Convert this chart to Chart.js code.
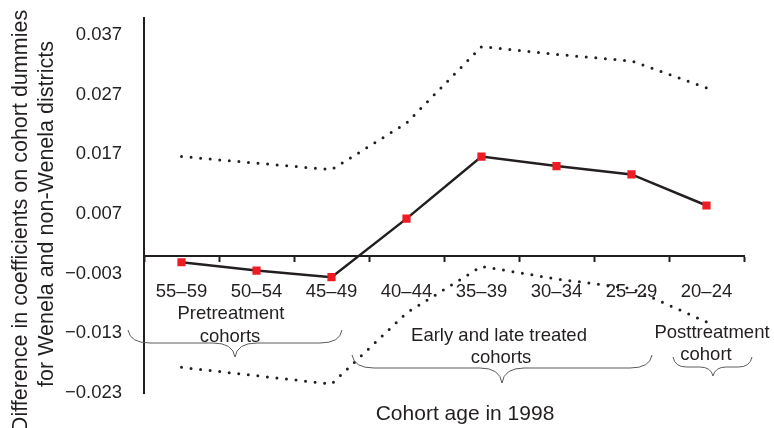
<!DOCTYPE html>
<html>
<head>
<meta charset="utf-8">
<script src="https://cdn.jsdelivr.net/npm/chart.js@4"></script>
<style>
	html, body { margin: 0; padding: 0; background: #fff; }
	#wrap { width: 774px; height: 428px; position: relative; }
</style>
</head>
<body>
<div id="wrap"><canvas id="cohortChart"></canvas></div>
<script>
const cohorts = ['55–59', '50–54', '45–49', '40–44', '35–39', '30–34', '25–29', '20–24'];
const difference = [-0.0011, -0.0025, -0.0036, 0.0062, 0.0166, 0.0150, 0.0136, 0.0084];
const upperBound = [0.0166, 0.0155, 0.0144, 0.0222, 0.0350, 0.0337, 0.0326, 0.0281];
const lowerBound = [-0.0187, -0.0201, -0.0215, -0.0096, -0.0018, -0.0039, -0.0055, -0.0111];
const yTickValues = [-0.023, -0.013, -0.003, 0.007, 0.017, 0.027, 0.037];
const yTickLabels = ['−0.023', '−0.013', '−0.003', '0.007', '0.017', '0.027', '0.037'];

const ink = '#231f20';
const fontFamily = '"Liberation Sans", Arial, Helvetica, sans-serif';

// braces under the cohort groups (pixel positions)
const braces = [
	{ x1: 128, x2: 342, xm: 235, yEnd: 330, yBar: 343, yTip: 357 },
	{ x1: 352, x2: 652, xm: 502, yEnd: 355, yBar: 368, yTip: 383 },
	{ x1: 673, x2: 752, xm: 713, yEnd: 357, yBar: 367, yTip: 376 }
];
const groupLabels = [
	{ text: 'Pretreatment', x: 231, y: 319 },
	{ text: 'cohorts', x: 230, y: 342 },
	{ text: 'Early and late treated', x: 499, y: 341 },
	{ text: 'cohorts', x: 501, y: 363 },
	{ text: 'Posttreatment', x: 712, y: 338 },
	{ text: 'cohort', x: 706, y: 360 }
];

function drawBrace(ctx, b) {
	const r = Math.min(22, (b.xm - b.x1) / 3);
	ctx.beginPath();
	ctx.moveTo(b.x1, b.yEnd);
	ctx.quadraticCurveTo(b.x1 + 2, b.yBar, b.x1 + r, b.yBar);
	ctx.lineTo(b.xm - r, b.yBar);
	ctx.quadraticCurveTo(b.xm - 2, b.yBar, b.xm, b.yTip);
	ctx.quadraticCurveTo(b.xm + 2, b.yBar, b.xm + r, b.yBar);
	ctx.lineTo(b.x2 - r, b.yBar);
	ctx.quadraticCurveTo(b.x2 - 2, b.yBar, b.x2, b.yEnd);
	ctx.stroke();
}

const annotationPlugin = {
	id: 'annotationPlugin',
	afterDraw(chart) {
		const ctx = chart.ctx;
		ctx.save();
		ctx.strokeStyle = '#5a5a5a';
		ctx.lineWidth = 1;
		braces.forEach(b => drawBrace(ctx, b));

		ctx.fillStyle = ink;
		ctx.textAlign = 'center';
		ctx.textBaseline = 'alphabetic';
		ctx.font = '18.5px ' + fontFamily;
		groupLabels.forEach(l => ctx.fillText(l.text, l.x, l.y));

		// axis titles
		ctx.font = '21px ' + fontFamily;
		ctx.fillText('Cohort age in 1998', 465, 420);
		ctx.font = '21.5px ' + fontFamily;
		ctx.rotate(-Math.PI / 2);
		ctx.fillText('Difference in coefficients on cohort dummies', -221, 27);
		ctx.fillText('for Wenela and non-Wenela districts', -214, 53);
		ctx.restore();
	}
};

function createChart() {
	const ctx = document.getElementById('cohortChart').getContext('2d');
	new Chart(ctx, {
		type: 'line',
		data: {
			labels: cohorts,
			datasets: [
				{
					label: 'Upper bound',
					data: upperBound,
					borderColor: ink,
					borderWidth: 3,
					borderDash: [0, 9.6],
					borderCapStyle: 'round',
					pointRadius: 0,
					tension: 0
				},
				{
					label: 'Lower bound',
					data: lowerBound,
					borderColor: ink,
					borderWidth: 3,
					borderDash: [0, 9.6],
					borderCapStyle: 'round',
					pointRadius: 0,
					tension: 0
				},
				{
					label: 'Difference',
					data: difference,
					borderColor: ink,
					borderWidth: 2.5,
					pointStyle: 'rect',
					pointRadius: 5.8,
					pointBorderWidth: 0,
					pointBackgroundColor: '#ed1c24',
					tension: 0
				}
			]
		},
		options: {
			responsive: true,
			maintainAspectRatio: false,
			animation: false,
			layout: {
				padding: { left: 0, top: 18, right: 30, bottom: 35 }
			},
			plugins: {
				legend: { display: false },
				tooltip: { enabled: false }
			},
			scales: {
				x: {
					position: { y: 0 },
					offset: true,
					grid: {
						display: true,
						offset: true,
						drawOnChartArea: false,
						drawTicks: true,
						tickLength: 5,
						tickWidth: 2,
						tickColor: ink
					},
					border: { display: true, color: ink, width: 2 },
					ticks: {
						color: ink,
						padding: 20,
						maxRotation: 0,
						autoSkip: false,
						font: { size: 18.5, family: fontFamily }
					}
				},
				y: {
					min: -0.023,
					max: 0.0398,
					grid: { display: false },
					border: { display: true, color: ink, width: 2 },
					afterBuildTicks: scale => {
						scale.ticks = yTickValues.map(v => ({ value: v }));
					},
					afterFit: scale => {
						scale.width = 144;
					},
					ticks: {
						color: ink,
						padding: 14,
						// small line height so the label padding does not push the plot top down
						font: { size: 18.5, family: fontFamily, lineHeight: 0.3 },
						callback: value => {
							const i = yTickValues.findIndex(v => Math.abs(v - value) < 1e-9);
							return i === -1 ? '' : yTickLabels[i];
						}
					}
				}
			}
		},
		plugins: [annotationPlugin]
	});
}

document.addEventListener('DOMContentLoaded', createChart);
</script>
</body>
</html>
